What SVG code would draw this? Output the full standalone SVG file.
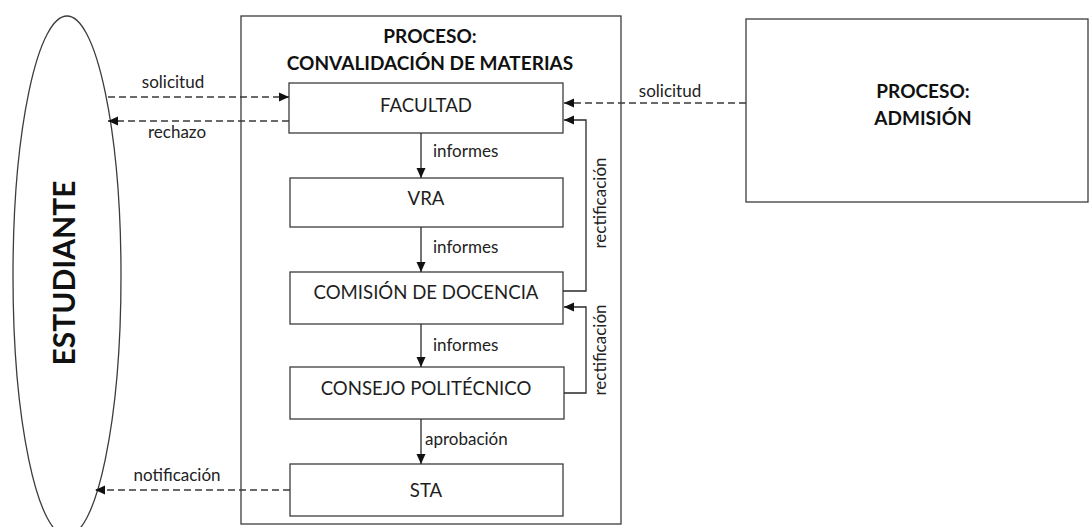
<svg xmlns="http://www.w3.org/2000/svg" width="1089" height="527" viewBox="0 0 1089 527">
<style>
.box{fill:#fff;stroke:#3c3c3c;stroke-width:1.3}
.frame{fill:none;stroke:#3c3c3c;stroke-width:1.3}
.lbl{font-family:Lato,"Liberation Sans",sans-serif;font-size:17px;fill:#222;text-anchor:middle}
.nm{font-family:Lato,"Liberation Sans",sans-serif;font-size:18.6px;fill:#1e1e1e;text-anchor:middle}
.ttl{font-family:Lato,"Liberation Sans",sans-serif;font-size:19px;font-weight:bold;fill:#111;text-anchor:middle}
.ln{fill:none;stroke:#2a2a2a;stroke-width:1.3}
.dash{fill:none;stroke:#3a3a3a;stroke-width:1.5;stroke-dasharray:7 4}
</style>
<defs>
<marker id="ah" viewBox="0 0 10 10" refX="10" refY="5" markerWidth="10" markerHeight="10" markerUnits="userSpaceOnUse" orient="auto">
<path d="M0,0.5 L10,5 L0,9.5 z" fill="#111"/>
</marker>
</defs>
<g id="estudiante">
<ellipse cx="67" cy="276" rx="54" ry="260" class="frame"/>
<text transform="translate(75,273) rotate(-90)" font-family="Lato,'Liberation Sans',sans-serif" font-size="30" font-weight="bold" fill="#111" text-anchor="middle">ESTUDIANTE</text>
</g>
<g id="proceso-convalidacion">
<rect x="241" y="16" width="380" height="508" class="frame"/>
<text x="430" y="43" class="ttl">PROCESO:</text>
<text x="430" y="70" class="ttl">CONVALIDACIÓN DE MATERIAS</text>
</g>
<g id="proceso-admision">
<rect x="746" y="19" width="342" height="183" class="box"/>
<text x="923" y="98" class="ttl">PROCESO:</text>
<text x="923" y="125" class="ttl">ADMISIÓN</text>
</g>
<g id="facultad">
<rect x="289" y="83" width="274" height="50" class="box"/>
<text x="426" y="112" class="nm">FACULTAD</text>
</g>
<g id="vra">
<rect x="290" y="178" width="273" height="49" class="box"/>
<text x="426" y="205" class="nm">VRA</text>
</g>
<g id="comision">
<rect x="290" y="272" width="273" height="52" class="box"/>
<text x="426" y="299" class="nm">COMISIÓN DE DOCENCIA</text>
</g>
<g id="consejo">
<rect x="290" y="367" width="274" height="52" class="box"/>
<text x="426" y="395" class="nm">CONSEJO POLITÉCNICO</text>
</g>
<g id="sta">
<rect x="290" y="464" width="273" height="52" class="box"/>
<text x="426" y="497" class="nm">STA</text>
</g>
<g id="connectors">
<line x1="108" y1="97" x2="289" y2="97" class="dash" marker-end="url(#ah)"/>
<line x1="289" y1="121" x2="108" y2="121" class="dash" marker-end="url(#ah)"/>
<line x1="746" y1="103" x2="564" y2="103" class="dash" marker-end="url(#ah)"/>
<line x1="290" y1="490" x2="95" y2="490" class="dash" marker-end="url(#ah)"/>
<line x1="421" y1="133" x2="421" y2="178" class="ln" marker-end="url(#ah)"/>
<line x1="421" y1="227" x2="421" y2="272" class="ln" marker-end="url(#ah)"/>
<line x1="421" y1="324" x2="421" y2="367" class="ln" marker-end="url(#ah)"/>
<line x1="421" y1="419" x2="421" y2="464" class="ln" marker-end="url(#ah)"/>
<polyline points="563,291 586,291 586,120 564,120" class="ln" marker-end="url(#ah)"/>
<polyline points="564,393 586,393 586,307 564,307" class="ln" marker-end="url(#ah)"/>
<text x="173" y="88" class="lbl">solicitud</text>
<text x="177" y="138" class="lbl">rechazo</text>
<text x="670" y="97" class="lbl">solicitud</text>
<text x="177" y="481" class="lbl">notificación</text>
<text x="433" y="157" class="lbl" style="text-anchor:start">informes</text>
<text x="433" y="253" class="lbl" style="text-anchor:start">informes</text>
<text x="433" y="351" class="lbl" style="text-anchor:start">informes</text>
<text x="425" y="445" class="lbl" style="text-anchor:start">aprobación</text>
<text transform="translate(606,203) rotate(-90)" class="lbl">rectificación</text>
<text transform="translate(606,350) rotate(-90)" class="lbl">rectificación</text>
</g>
</svg>
